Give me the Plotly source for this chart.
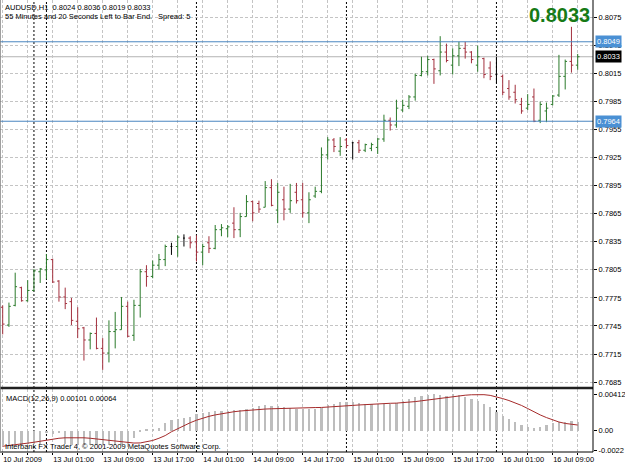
import plotly.graph_objects as go

# ---------------- data (AUDUSD H1, 93 bars) ----------------
opens = [0.7765, 0.7746, 0.7767, 0.7786, 0.7772, 0.7783, 0.7803, 0.7805, 0.7816, 0.7793,
         0.7776, 0.7771, 0.7750, 0.7743, 0.7730, 0.7737, 0.7721, 0.7716, 0.7739, 0.7741,
         0.7766, 0.7735, 0.7767, 0.7803, 0.7798, 0.7810, 0.7816, 0.7830, 0.7830, 0.7839,
         0.7839, 0.7835, 0.7824, 0.7834, 0.7828, 0.7848, 0.7849, 0.7855, 0.7848, 0.7862,
         0.7878, 0.7876, 0.7872, 0.7893, 0.7869, 0.7880, 0.7870, 0.7888, 0.7880, 0.7866,
         0.7884, 0.7889, 0.7928, 0.7944, 0.7932, 0.7944, 0.7941, 0.7941, 0.7933, 0.7935,
         0.7936, 0.7945, 0.7965, 0.7960, 0.7976, 0.7980, 0.7990, 0.8013, 0.8017, 0.8030,
         0.8018, 0.8038, 0.8024, 0.8034, 0.8042, 0.8038, 0.8024, 0.8031, 0.8021, 0.8014,
         0.8012, 0.7999, 0.7995, 0.7982, 0.7978, 0.7990, 0.7965, 0.7975, 0.7982, 0.7992,
         0.8012, 0.8028, 0.8024]
highs = [0.7767, 0.7770, 0.7802, 0.7787, 0.7794, 0.7806, 0.7807, 0.7822, 0.7817, 0.7794,
         0.7786, 0.7775, 0.7765, 0.7744, 0.7738, 0.7754, 0.7732, 0.7751, 0.7760, 0.7776,
         0.7771, 0.7773, 0.7806, 0.7810, 0.7815, 0.7822, 0.7832, 0.7834, 0.7842, 0.7843,
         0.7841, 0.7842, 0.7833, 0.7841, 0.7853, 0.7854, 0.7853, 0.7872, 0.7866, 0.7885,
         0.7879, 0.7879, 0.7900, 0.7902, 0.7898, 0.7894, 0.7897, 0.7898, 0.7898, 0.7888,
         0.7894, 0.7936, 0.7947, 0.7946, 0.7947, 0.7946, 0.7942, 0.7944, 0.7940, 0.7941,
         0.7946, 0.7971, 0.7968, 0.7987, 0.7987, 0.7992, 0.8015, 0.8033, 0.8034, 0.8031,
         0.8055, 0.8047, 0.8042, 0.8049, 0.8049, 0.8039, 0.8045, 0.8032, 0.8028, 0.8033,
         0.8014, 0.8008, 0.8003, 0.7989, 0.7993, 0.7999, 0.7985, 0.7984, 0.7992, 0.8035,
         0.8030, 0.8065, 0.8036]
lows = [0.7736, 0.7744, 0.7766, 0.7771, 0.7771, 0.7782, 0.7791, 0.7795, 0.7791, 0.7771,
        0.7763, 0.7746, 0.7732, 0.7708, 0.7720, 0.7720, 0.7698, 0.7706, 0.7721, 0.7741,
        0.7733, 0.7729, 0.7754, 0.7787, 0.7796, 0.7805, 0.7809, 0.7821, 0.7819, 0.7830,
        0.7828, 0.7814, 0.7810, 0.7823, 0.7827, 0.7841, 0.7840, 0.7839, 0.7840, 0.7862,
        0.7857, 0.7866, 0.7872, 0.7873, 0.7855, 0.7858, 0.7866, 0.7876, 0.7861, 0.7855,
        0.7882, 0.7887, 0.7923, 0.7931, 0.7927, 0.7935, 0.7923, 0.7930, 0.7931, 0.7932,
        0.7929, 0.7942, 0.7954, 0.7957, 0.7974, 0.7977, 0.7986, 0.8012, 0.8013, 0.8004,
        0.8013, 0.8027, 0.8014, 0.8023, 0.8031, 0.8026, 0.8017, 0.8010, 0.8008, 0.8005,
        0.7992, 0.7987, 0.7983, 0.7972, 0.7976, 0.7963, 0.7962, 0.7963, 0.7981, 0.7990,
        0.7998, 0.8016, 0.8019]
closes = [0.7747, 0.7766, 0.7787, 0.7772, 0.7783, 0.7804, 0.7806, 0.7816, 0.7792, 0.7776,
          0.7769, 0.7751, 0.7742, 0.7730, 0.7737, 0.7721, 0.7716, 0.7739, 0.7741, 0.7766,
          0.7734, 0.7767, 0.7803, 0.7798, 0.7810, 0.7816, 0.7830, 0.7830, 0.7840, 0.7839,
          0.7834, 0.7824, 0.7830, 0.7828, 0.7848, 0.7850, 0.7851, 0.7848, 0.7862, 0.7878,
          0.7866, 0.7870, 0.7893, 0.7874, 0.7888, 0.7870, 0.7879, 0.7879, 0.7866, 0.7880,
          0.7889, 0.7928, 0.7944, 0.7937, 0.7937, 0.7938, 0.7941, 0.7933, 0.7939, 0.7939,
          0.7945, 0.7965, 0.7960, 0.7978, 0.7981, 0.7990, 0.8013, 0.8017, 0.8030, 0.8020,
          0.8038, 0.8029, 0.8034, 0.8042, 0.8038, 0.8030, 0.8033, 0.8014, 0.8012, 0.8014,
          0.7995, 0.7990, 0.7987, 0.7975, 0.7982, 0.7964, 0.7982, 0.7978, 0.7991, 0.8012,
          0.8028, 0.8024, 0.8033]

macd_hist = [-0.0016, -0.0016, -0.00155, -0.0016, -0.00155, -0.00155, -0.0015, -0.0003, -0.00035, -0.0003,
             -0.0015, -0.0016, -0.00165, -0.00165, -0.0016, -0.0016, -0.00165, -0.0016, -0.0016, -0.0016,
             -0.0015, -0.0008, -0.0002, 0.0001, 0.0002, 0.00035, 0.0009, 0.0012, 0.00132, 0.00142,
             0.00155, 0.00185, 0.00205, 0.0021, 0.00218, 0.00225, 0.00226, 0.00228, 0.00236, 0.00244,
             0.00252, 0.00278, 0.00288, 0.00282, 0.00275, 0.00265, 0.00255, 0.00248, 0.00245, 0.0024,
             0.00245, 0.00255, 0.0029, 0.003, 0.00318, 0.00325, 0.00318, 0.00308, 0.003, 0.003,
             0.003, 0.003, 0.00302, 0.00308, 0.0033, 0.00354, 0.0038, 0.00395, 0.00405, 0.00412,
             0.00405, 0.00395, 0.0041, 0.004, 0.00385, 0.0036, 0.0033, 0.003, 0.00265, 0.0021,
             0.00165, 0.00135, 0.001, 0.0006, 0.00045, 0.00035, 0.0004, 0.0006, 0.00085, 0.00095,
             0.001, 0.00105, 0.00101]
macd_signal = [-0.00175, -0.00168, -0.0016, -0.0015, -0.0014, -0.0013, -0.00118, -0.00105, -0.00093, -0.00085,
               -0.0008, -0.00078, -0.00077, -0.0008, -0.00085, -0.00092, -0.001, -0.0011, -0.0012, -0.00128,
               -0.00135, -0.00139, -0.00138, -0.00128, -0.0011, -0.00085, -0.00055, -0.00012, 0.00025, 0.00058,
               0.0009, 0.00118, 0.00142, 0.00162, 0.00178, 0.00192, 0.00204, 0.00214, 0.00222, 0.00229,
               0.00235, 0.0024, 0.00244, 0.00247, 0.0025, 0.00252, 0.00254, 0.00256, 0.00259, 0.0026,
               0.00261, 0.00262, 0.00265, 0.0027, 0.00275, 0.0028, 0.00285, 0.0029, 0.00295, 0.003,
               0.00304, 0.00307, 0.00309, 0.00311, 0.00314, 0.0032, 0.00328, 0.00337, 0.00347, 0.00357,
               0.00366, 0.00375, 0.00384, 0.00393, 0.004, 0.00405, 0.00408, 0.00406, 0.00398, 0.00382,
               0.00362, 0.0034, 0.00316, 0.00285, 0.0025, 0.00212, 0.00178, 0.00148, 0.0012, 0.00098,
               0.00082, 0.00072, 0.00064]

bars = list(range(len(opens)))
time_labels = ["10 Jul 2009", "13 Jul 01:00", "13 Jul 09:00", "13 Jul 17:00", "14 Jul 01:00",
               "14 Jul 09:00", "14 Jul 17:00", "15 Jul 01:00", "15 Jul 09:00", "15 Jul 17:00",
               "16 Jul 01:00", "16 Jul 09:00"]
time_label_bars = [0, 8, 16, 24, 32, 40, 48, 56, 64, 72, 80, 88]
grid_bars = [0, 4, 8, 12, 16, 20, 24, 28, 32, 36, 40, 44, 48, 52, 56, 60, 64, 68, 72, 76, 80, 84, 88, 92]
day_separators = [5, 7, 31, 55, 79]
price_ticks = [0.7685, 0.7715, 0.7745, 0.7775, 0.7805, 0.7835, 0.7865, 0.7895, 0.7925,
               0.7955, 0.7985, 0.8015, 0.8045, 0.8075]
level_lines = [0.8049, 0.7964]
bid_price = 0.8033
macd_ticks = [0.00412, 0.0, -0.0022]
macd_tick_text = ["0.00412", "0.00", "-0.0022"]

FONT = "Liberation Sans, Arial, sans-serif"
GREEN = "#2a7a2a"
RED = "#a3303e"
GRID = "#c4c4c4"

doji = [i for i in bars if opens[i] == closes[i]]
normal = [i for i in bars if opens[i] != closes[i]]

fig = go.Figure()
fig.add_trace(go.Ohlc(
    x=[bars[i] for i in normal], open=[opens[i] for i in normal], high=[highs[i] for i in normal],
    low=[lows[i] for i in normal], close=[closes[i] for i in normal],
    increasing=dict(line=dict(color=GREEN, width=1)),
    decreasing=dict(line=dict(color=RED, width=1)),
    tickwidth=0.3, xaxis="x", yaxis="y", hoverinfo="skip", showlegend=False))
fig.add_trace(go.Ohlc(
    x=[bars[i] for i in doji], open=[opens[i] for i in doji], high=[highs[i] for i in doji],
    low=[lows[i] for i in doji], close=[closes[i] for i in doji],
    increasing=dict(line=dict(color="#000000", width=1)),
    decreasing=dict(line=dict(color="#000000", width=1)),
    tickwidth=0.15, xaxis="x", yaxis="y", hoverinfo="skip", showlegend=False))
fig.add_trace(go.Bar(x=bars, y=macd_hist, width=0.38, marker=dict(color="#bdbdbd", line=dict(width=0)),
                     xaxis="x", yaxis="y2", hoverinfo="skip", showlegend=False))
fig.add_trace(go.Scatter(x=bars, y=macd_signal, mode="lines", line=dict(color="#a52a2a", width=1),
                         xaxis="x", yaxis="y2", hoverinfo="skip", showlegend=False))

W, H = 625, 469
L, R, T, B = 0, 32, 0, 17
ph = H - T - B
main_bottom = (ph - 387) / ph
macd_top = (ph - 389) / ph
sep = (main_bottom + macd_top) / 2

ticktext = [time_labels[time_label_bars.index(g)] if g in time_label_bars else "" for g in grid_bars]

fig.update_layout(
    width=W, height=H, margin=dict(l=L, r=R, t=T, b=B),
    paper_bgcolor="white", plot_bgcolor="white",
    font=dict(family=FONT, size=7.5, color="black"),
    xaxis=dict(domain=[0, 1], anchor="y2", range=[-0.43, 94.45], rangeslider=dict(visible=False),
               tickvals=grid_bars, ticktext=ticktext, ticklabelposition="outside right",
               ticks="outside", ticklen=2, tickcolor="black",
               showgrid=True, gridcolor=GRID, griddash="3px,2px", gridwidth=1,
               zeroline=False, showline=False, tickfont=dict(size=7.5)),
    yaxis=dict(domain=[main_bottom, 1], anchor="x", side="right", range=[0.76797, 0.80937],
               tickvals=price_ticks, ticktext=[f"{p:.4f}" for p in price_ticks],
               ticks="outside", ticklen=3, tickcolor="black",
               showgrid=True, gridcolor=GRID, griddash="3px,2px", gridwidth=1, zeroline=False),
    yaxis2=dict(domain=[0, macd_top], anchor="x", side="right", range=[-0.0024, 0.0047],
                tickvals=macd_ticks, ticktext=macd_tick_text, ticks="outside", ticklen=3,
                tickcolor="black", showgrid=False, zeroline=False),
    bargap=0,
)

shapes = []
for lv in level_lines:
    shapes.append(dict(type="line", xref="paper", x0=0, x1=1, yref="y", y0=lv, y1=lv,
                       line=dict(color="#4a86c0", width=1), layer="above"))
shapes.append(dict(type="line", xref="paper", x0=0, x1=1, yref="y", y0=bid_price, y1=bid_price,
                   line=dict(color="#b4b4b4", width=1), layer="below"))
for s in day_separators:
    shapes.append(dict(type="line", xref="x", x0=s, x1=s, yref="paper", y0=0, y1=1,
                       line=dict(color="black", width=1, dash="2px,2px"), layer="below"))
# panel frames
shapes.append(dict(type="line", xref="paper", x0=0, x1=1, yref="paper", y0=sep, y1=sep,
                   line=dict(color="#202020", width=2.5)))
shapes.append(dict(type="line", xref="paper", x0=0, x1=1, yref="paper", y0=0, y1=0,
                   line=dict(color="black", width=1)))
shapes.append(dict(type="line", xref="paper", x0=1, x1=1, yref="paper", y0=0, y1=1,
                   line=dict(color="black", width=1)))
shapes.append(dict(type="line", xref="paper", x0=0, x1=0, yref="paper", y0=0, y1=1,
                   line=dict(color="#808080", width=1.5)))
fig.update_layout(shapes=shapes)

ann = []
ann.append(dict(x=0, xref="paper", xanchor="left", xshift=3, y=1, yref="paper", yanchor="top", yshift=-1,
                text=f"AUDUSD,H1  {opens[-1]:.4f} {highs[-1]:.4f} {lows[-1]:.4f} {closes[-1]:.4f}",
                showarrow=False, font=dict(size=7.5)))
ann.append(dict(x=0, xref="paper", xanchor="left", xshift=3, y=1, yref="paper", yanchor="top", yshift=-10,
                text="55 Minutes and 20 Seconds Left to Bar End.", showarrow=False, font=dict(size=7.5)))
ann.append(dict(x=0, xref="paper", xanchor="left", xshift=156, y=1, yref="paper", yanchor="top", yshift=-10,
                text="Spread: 5", showarrow=False, font=dict(size=7.5)))
ann.append(dict(x=1, xref="paper", xanchor="right", xshift=-1, y=1, yref="paper", yanchor="top", yshift=-2,
                text=f"<b>{closes[-1]:.4f}</b>", showarrow=False,
                font=dict(size=20, color="#167a16", family="Liberation Sans, Arial, sans-serif")))
for lv in level_lines:
    ann.append(dict(x=1, xref="paper", xanchor="left", xshift=2, y=lv, yref="y", yanchor="middle",
                    text=f"{lv:.4f}", showarrow=False, bgcolor="#4a90d4", borderpad=1,
                    font=dict(size=7.5, color="white")))
ann.append(dict(x=1, xref="paper", xanchor="left", xshift=2, y=bid_price, yref="y", yanchor="middle",
                text=f"{bid_price:.4f}", showarrow=False, bgcolor="black", borderpad=1,
                font=dict(size=7.5, color="white")))
ann.append(dict(x=0, xref="paper", xanchor="left", xshift=4, y=macd_top, yref="paper", yanchor="top",
                yshift=-3, text=f"MACD(12,26,9) {macd_hist[-1]:.5f} {macd_signal[-1]:.5f}",
                showarrow=False, font=dict(size=7.5)))
ann.append(dict(x=0, xref="paper", xanchor="left", xshift=3, y=0, yref="paper", yanchor="bottom",
                yshift=-1, text="Interbank FX Trader 4, © 2001-2009 MetaQuotes Software Corp.",
                showarrow=False, font=dict(size=7.5)))
fig.update_layout(annotations=ann)

fig.write_html("out.html")
